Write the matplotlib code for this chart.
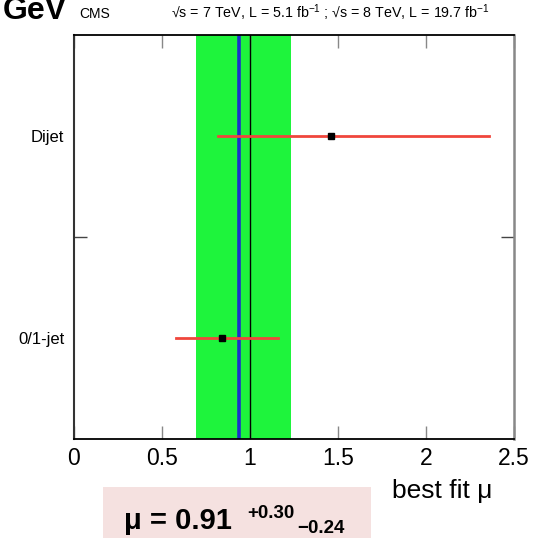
import matplotlib
matplotlib.use("Agg")
import matplotlib.pyplot as plt
from matplotlib.patches import Rectangle

plt.rcParams['font.family'] = ['Liberation Sans', 'DejaVu Sans']
plt.rcParams['mathtext.fontset'] = 'custom'
plt.rcParams['mathtext.rm'] = 'Liberation Sans'
plt.rcParams['mathtext.it'] = 'Liberation Sans:italic'

# per-channel signal strength fits
channels = ['0/1-jet', 'Dijet']
chan_y = [1, 3]
mu_fit = [0.84, 1.46]
mu_lo = [0.58, 0.82]
mu_hi = [1.16, 2.36]

# combined fit as drawn
mu_comb = 0.937
band_lo = 0.694
band_hi = 1.232
mu_sm = 1.0

xticks = [0, 0.5, 1, 1.5, 2, 2.5]
xticklabels = ['0', '0.5', '1', '1.5', '2', '2.5']

W, H = 543, 538
fig = plt.figure(figsize=(W / 100, H / 100), dpi=100)
ax = fig.add_axes([74 / W, (H - 439) / H, 440 / W, 404 / H])

ax.axvspan(band_lo, band_hi, color='#1ef43c', lw=0, zorder=1)
ax.axvline(mu_comb, color='#1c2fcc', lw=2.6, zorder=2)
ax.axvline(mu_sm, color='black', lw=1.0, zorder=3)

for m, lo, hi, y in zip(mu_fit, mu_lo, mu_hi, chan_y):
    ax.plot([lo, hi], [y, y], color='#f0463c', lw=2.0, zorder=4)
    ax.plot(m, y, 's', color='black', ms=5, zorder=5)

ax.set_xlim(0, 2.5)
ax.set_ylim(0, 4)
ax.set_xticks(xticks)
ax.set_xticklabels(xticklabels, fontsize=16.5)
ax.tick_params(axis='x', direction='in', length=9.5, width=1, color='#888888',
               top=True, pad=6)
ax.set_yticks(chan_y)
ax.set_yticklabels(channels, fontsize=12)
ax.set_yticks([2], minor=True)
ax.tick_params(axis='y', which='major', length=0, pad=7)
ax.tick_params(axis='y', which='minor', direction='in', length=9.5, width=1,
               color='#444444', right=True)

for side in ['top', 'bottom']:
    ax.spines[side].set_color('black')
    ax.spines[side].set_linewidth(1.3)
ax.spines['left'].set_color('#333333')
ax.spines['left'].set_linewidth(1.5)
ax.spines['right'].set_color('#888888')
ax.spines['right'].set_linewidth(1.8)

# header texts
fig.text(3 / W, 1 - 19 / H, 'GeV', fontsize=23, fontweight='bold', va='baseline')
fig.text(79 / W, 1 - 18 / H, 'CMS', fontsize=10, va='baseline')
fig.text(171 / W, 1 - 18 / H,
         '\u221as = 7 TeV, L = 5.1 fb$^{-1}$ ; \u221as = 8 TeV, L = 19.7 fb$^{-1}$',
         fontsize=10.3, va='baseline')

fig.text(492 / W, 1 - 498 / H, 'best fit μ', fontsize=19, ha='right', va='baseline')

# result box
fig.patches.append(Rectangle((103 / W, 0), 268 / W, 51 / H, transform=fig.transFigure,
                             color='#f5e1e0', lw=0, zorder=0))
fig.text(124 / W, 1 - 529 / H, 'μ = 0.91', fontsize=21, fontweight='bold', va='baseline')
fig.text(247 / W, 1 - 518 / H, '+0.30', fontsize=13.5, fontweight='bold', va='baseline')
fig.text(297 / W, 1 - 533 / H, '\u22120.24', fontsize=13.5, fontweight='bold', va='baseline')

fig.savefig('out.png', dpi=100)
